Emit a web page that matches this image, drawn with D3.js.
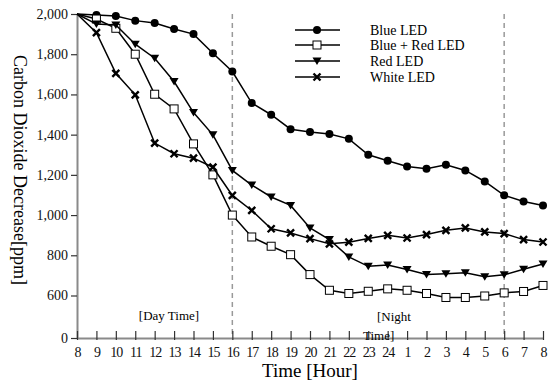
<!DOCTYPE html>
<html>
<head>
<meta charset="utf-8">
<script src="https://cdn.jsdelivr.net/npm/d3@7"></script>
<style>
  body { margin: 0; background: #fff; }
  svg { font-family: "Liberation Serif", "DejaVu Serif", serif; }
</style>
</head>
<body>
<script>
// hours on the x axis (8 am to 8 am next day)
var hours = [8, 9, 10, 11, 12, 13, 14, 15, 16, 17, 18, 19, 20, 21, 22, 23, 24, 1, 2, 3, 4, 5, 6, 7, 8];

var blueLed    = [2000, 1995, 1990, 1967, 1955, 1925, 1900, 1805, 1714, 1557, 1499, 1427, 1413, 1403, 1379, 1300, 1270, 1242, 1230, 1250, 1222, 1167, 1098, 1068, 1048];
var blueRedLed = [2000, 1975, 1929, 1800, 1601, 1528, 1354, 1200, 1000, 891, 845, 803, 704, 626, 610, 621, 633, 626, 610, 572, 572, 593, 613, 620, 650];
var redLed     = [2000, 1950, 1945, 1850, 1780, 1664, 1510, 1399, 1222, 1149, 1090, 1048, 936, 878, 792, 745, 752, 729, 704, 708, 713, 693, 703, 731, 757];
var whiteLed   = [2000, 1907, 1705, 1598, 1358, 1305, 1283, 1238, 1098, 1023, 932, 911, 883, 857, 865, 884, 899, 886, 903, 924, 936, 916, 908, 878, 866];

var seriesNames = ['Blue LED', 'Blue + Red LED', 'Red LED', 'White LED'];
var yTicks = [0, 600, 800, 1000, 1200, 1400, 1600, 1800, 2000];
var dayNightSplits = [8, 22]; // indexes of 16h and 6h

var width = 552, height = 381;
var svg = d3.select('body').append('svg').attr('width', width).attr('height', height);

var x = d3.scaleLinear().domain([0, hours.length - 1]).range([77, 543]);
// broken axis: 0 sits one step below 600
var y = d3.scaleLinear().domain([0, 600, 2000]).range([338, 295.5, 14]);

// dashed day/night separators
svg.selectAll('.split')
  .data(dayNightSplits)
  .enter().append('line')
  .attr('x1', d => x(d)).attr('x2', d => x(d))
  .attr('y1', 14).attr('y2', 338)
  .attr('stroke', '#999').attr('stroke-width', 1.5)
  .attr('stroke-dasharray', '5,4');

// y axis
var yAxis = svg.append('g').attr('transform', 'translate(77,0)')
  .call(d3.axisLeft(y).tickValues(yTicks).tickFormat(d3.format(',')).tickSize(6).tickSizeOuter(0).tickPadding(3));
yAxis.select('.domain').attr('stroke', '#8a8a8a').attr('stroke-width', 2);
yAxis.selectAll('.tick line').attr('stroke', '#333').attr('stroke-width', 1.2);
yAxis.selectAll('.tick text').attr('font-size', 14).attr('fill', '#111')
  .attr('font-family', '"Liberation Serif", serif');

// x axis
var xAxis = svg.append('g').attr('transform', 'translate(0,338)')
  .call(d3.axisBottom(x).tickValues(d3.range(hours.length)).tickFormat(i => hours[i]).tickSize(0).tickSizeOuter(0).tickPadding(9));
xAxis.select('.domain').attr('stroke', '#8a8a8a').attr('stroke-width', 2);
xAxis.selectAll('.tick line').attr('y1', -7).attr('y2', 2).attr('stroke', '#333').attr('stroke-width', 1.2);
xAxis.selectAll('.tick text').attr('font-size', 14).attr('fill', '#111')
  .attr('font-family', '"Liberation Serif", serif').attr('letter-spacing', -1);

// axis titles
svg.append('text').attr('x', 310).attr('y', 377).attr('text-anchor', 'middle')
  .attr('font-size', 19).text('Time [Hour]');
svg.append('text').attr('transform', 'translate(14,170) rotate(90)').attr('text-anchor', 'middle')
  .attr('font-size', 18).text('Carbon Dioxide Decrease[ppm]');

// period labels
svg.append('text').attr('x', 169).attr('y', 320).attr('text-anchor', 'middle').attr('font-size', 13).text('[Day Time]');
svg.append('text').attr('x', 377).attr('y', 321).attr('font-size', 13).text('[Night');
svg.append('text').attr('x', 363).attr('y', 340).attr('font-size', 13).text('Time]');

var allSeries = [blueLed, blueRedLed, redLed, whiteLed];
var markerTypes = ['circle', 'square', 'triangle', 'cross'];

var line = d3.line().x((d, i) => x(i)).y(d => y(d));

function drawMarker(g, type) {
  if (type === 'circle') {
    g.append('circle').attr('r', 4).attr('fill', '#000');
  } else if (type === 'square') {
    g.append('rect').attr('x', -4).attr('y', -4).attr('width', 8).attr('height', 8)
      .attr('fill', '#fff').attr('stroke', '#000').attr('stroke-width', 1);
  } else if (type === 'triangle') {
    g.append('path').attr('d', 'M-4.5,-3.5L4.5,-3.5L0,4Z').attr('fill', '#000');
  } else {
    g.append('path').attr('d', 'M-3.5,-3.5L3.5,3.5M-3.5,3.5L3.5,-3.5')
      .attr('stroke', '#000').attr('stroke-width', 2.4);
  }
}

allSeries.forEach(function (values, s) {
  svg.append('path').datum(values)
    .attr('d', line).attr('fill', 'none').attr('stroke', '#000').attr('stroke-width', 1.5);
  svg.append('g').selectAll('g')
    .data(values)
    .enter().append('g')
    .attr('transform', (d, i) => 'translate(' + x(i) + ',' + y(d) + ')')
    .each(function (d, i) {
      if (i === 0) return;
      drawMarker(d3.select(this), markerTypes[s]);
    });
});

// legend
var legendY = [30, 45, 61, 77];
var legend = svg.append('g');
seriesNames.forEach(function (name, s) {
  var g = legend.append('g').attr('transform', 'translate(0,' + legendY[s] + ')');
  g.append('line').attr('x1', 295).attr('x2', 340).attr('stroke', '#000').attr('stroke-width', 1.5);
  drawMarker(g.append('g').attr('transform', 'translate(317,0)'), markerTypes[s]);
  g.append('text').attr('x', 370).attr('y', 5).attr('font-size', 14).text(name);
});
</script>
</body>
</html>
